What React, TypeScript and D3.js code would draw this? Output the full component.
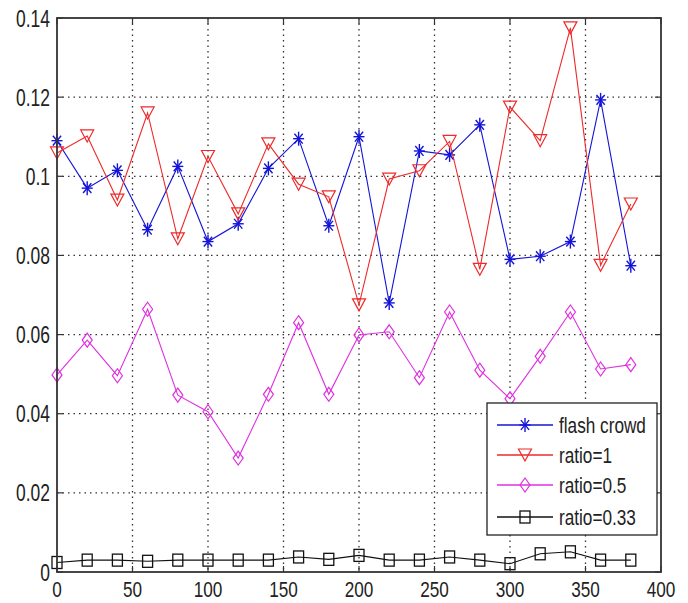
import React from "react";
import * as d3 from "d3";

const xValues = [0, 20, 40, 60, 80, 100, 120, 140, 160, 180, 200, 220, 240, 260, 280, 300, 320, 340, 360, 380];
const flashCrowd = [0.109, 0.097, 0.1015, 0.0865, 0.1025, 0.0835, 0.088, 0.102, 0.1095, 0.0875, 0.110, 0.068, 0.1064, 0.1054, 0.113, 0.079, 0.0798, 0.0835, 0.1193, 0.0774];
const ratio1 = [0.1059, 0.1102, 0.094, 0.116, 0.0842, 0.105, 0.0905, 0.1082, 0.098, 0.0948, 0.0675, 0.0993, 0.1014, 0.1088, 0.0765, 0.1175, 0.109, 0.1375, 0.0775, 0.093];
const ratio05 = [0.0498, 0.0586, 0.0496, 0.0664, 0.0447, 0.0405, 0.0288, 0.0449, 0.063, 0.0449, 0.0599, 0.0607, 0.0491, 0.0657, 0.051, 0.0438, 0.0545, 0.0657, 0.0513, 0.0524];
const ratio033 = [0.0024, 0.003, 0.003, 0.0027, 0.003, 0.003, 0.003, 0.003, 0.0038, 0.0032, 0.0042, 0.003, 0.003, 0.0038, 0.003, 0.0021, 0.0046, 0.0051, 0.003, 0.003];
const xTicks = [0, 50, 100, 150, 200, 250, 300, 350, 400];
const yTicks = [0, 0.02, 0.04, 0.06, 0.08, 0.1, 0.12, 0.14];
const seriesNames = ["flash crowd", "ratio=1", "ratio=0.5", "ratio=0.33"];

const W = 688, H = 603;
const L = 57, R = 661, T = 18, B = 572;
const FONT = "'Liberation Sans', Arial, sans-serif";

type Shape = "star" | "tri" | "diamond" | "square";

function Marker({ shape, cx, cy, color }: { shape: Shape; cx: number; cy: number; color: string }) {
  if (shape === "star") {
    const w = 5.5, h = 7;
    return (
      <g stroke={color} strokeWidth={1.4} fill="none">
        <line x1={cx - w} y1={cy} x2={cx + w} y2={cy} />
        <line x1={cx} y1={cy - h} x2={cx} y2={cy + h} />
        <line x1={cx - w * 0.75} y1={cy - h * 0.7} x2={cx + w * 0.75} y2={cy + h * 0.7} />
        <line x1={cx - w * 0.75} y1={cy + h * 0.7} x2={cx + w * 0.75} y2={cy - h * 0.7} />
      </g>
    );
  }
  if (shape === "tri") {
    const w = 6.5, h = 6;
    return <path d={`M${cx - w},${cy - h}L${cx + w},${cy - h}L${cx},${cy + h}Z`} fill="none" stroke={color} strokeWidth={1.2} />;
  }
  if (shape === "diamond") {
    const w = 5, h = 7;
    return <path d={`M${cx},${cy - h}L${cx + w},${cy}L${cx},${cy + h}L${cx - w},${cy}Z`} fill="none" stroke={color} strokeWidth={1.2} />;
  }
  const w = 5, h = 6;
  return <rect x={cx - w} y={cy - h} width={2 * w} height={2 * h} fill="none" stroke={color} strokeWidth={1.3} />;
}

function CText({ x, y, anchor, size, sx, children }: any) {
  return (
    <g transform={`translate(${x},${y}) scale(${sx},1)`}>
      <text x={0} y={0} textAnchor={anchor} fontFamily={FONT} fontSize={size} fill="#222">
        {children}
      </text>
    </g>
  );
}

export default function App() {
  const x = d3.scaleLinear().domain([0, 400]).range([L, R]);
  const y = d3.scaleLinear().domain([0, 0.14]).range([B, T]);

  const series: { name: string; values: number[]; color: string; shape: Shape }[] = [
    { name: seriesNames[0], values: flashCrowd, color: "#1414d8", shape: "star" },
    { name: seriesNames[1], values: ratio1, color: "#ee2a2a", shape: "tri" },
    { name: seriesNames[2], values: ratio05, color: "#e030e0", shape: "diamond" },
    { name: seriesNames[3], values: ratio033, color: "#111111", shape: "square" },
  ];

  const line = d3
    .line<number>()
    .x((_, i) => x(xValues[i]))
    .y((d) => y(d));

  const legX = 487, legY = 403, legW = 170, legH = 132;
  const legRows = [425, 455, 485, 517];

  return (
    <svg width={W} height={H} style={{ position: "absolute", left: 0, top: 0, background: "#fff" }}>
      <rect x={0} y={0} width={W} height={H} fill="#fff" />
      {/* grid */}
      <g stroke="#333" strokeWidth={1.3} strokeDasharray="1.5,4">
        {xTicks.slice(1, -1).map((t) => (
          <line key={"gx" + t} x1={x(t)} x2={x(t)} y1={T} y2={B} />
        ))}
        {yTicks.slice(1, -1).map((t) => (
          <line key={"gy" + t} x1={L} x2={R} y1={y(t)} y2={y(t)} />
        ))}
      </g>
      {/* series */}
      {series.map((s) => (
        <g key={s.name}>
          <path d={line(s.values) || ""} fill="none" stroke={s.color} strokeWidth={1.1} />
          {s.values.map((v, i) => (
            <Marker key={i} shape={s.shape} cx={x(xValues[i])} cy={y(v)} color={s.color} />
          ))}
        </g>
      ))}
      {/* ticks */}
      <g stroke="#333" strokeWidth={1.2}>
        {xTicks.map((t) => (
          <g key={"tx" + t}>
            <line x1={x(t)} x2={x(t)} y1={B} y2={B - 6} />
            <line x1={x(t)} x2={x(t)} y1={T} y2={T + 6} />
          </g>
        ))}
        {yTicks.map((t) => (
          <g key={"ty" + t}>
            <line x1={L} x2={L + 6} y1={y(t)} y2={y(t)} />
            <line x1={R} x2={R - 6} y1={y(t)} y2={y(t)} />
          </g>
        ))}
      </g>
      <rect x={L} y={T} width={R - L} height={B - T} fill="none" stroke="#333" strokeWidth={1.8} />
      {/* tick labels */}
      {xTicks.map((t) => (
        <CText key={"lx" + t} x={x(t)} y={597} anchor="middle" size={22} sx={0.78}>
          {String(t)}
        </CText>
      ))}
      {yTicks.map((t) => (
        <CText key={"ly" + t} x={50} y={y(t) + 8.5} anchor="end" size={23} sx={0.76}>
          {t === 0 ? "0" : String(+t.toFixed(2))}
        </CText>
      ))}
      {/* legend */}
      <rect x={legX} y={legY} width={legW} height={legH} fill="#fff" stroke="#222" strokeWidth={1.3} />
      {series.map((s, i) => (
        <g key={"leg" + i}>
          <line x1={497} x2={553} y1={legRows[i]} y2={legRows[i]} stroke={s.color} strokeWidth={1.3} />
          <Marker shape={s.shape} cx={525} cy={legRows[i]} color={s.color} />
          <CText x={559} y={legRows[i] + 7.5} anchor="start" size={21.5} sx={0.8}>
            {s.name}
          </CText>
        </g>
      ))}
    </svg>
  );
}
